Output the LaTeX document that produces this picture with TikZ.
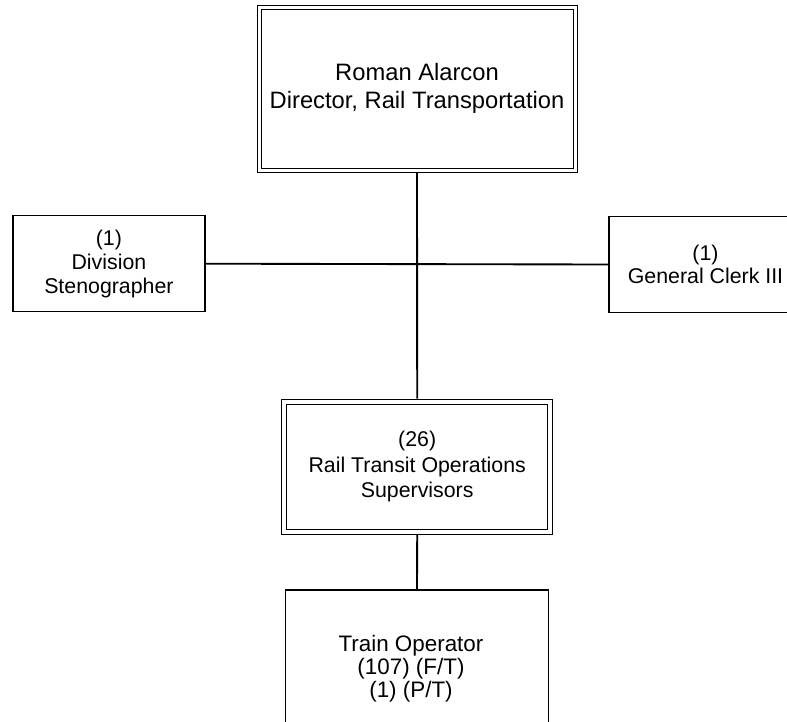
\documentclass[tikz,border=0pt]{standalone}
\usepackage{fontspec}
\setmainfont{Liberation Sans}
\begin{document}
\begin{tikzpicture}[x=0.75pt,y=-0.75pt,
  conn/.style={line width=1.4pt},
  singlebox/.style={draw, line width=1.1pt, rectangle, inner sep=0pt, outer sep=0pt, align=center},
  dblbox/.style={draw, rectangle, line width=0.75pt, double, double distance=#1, inner sep=0pt, align=center}
]
\useasboundingbox (0,0) rectangle (787,721);
\clip (0,0) rectangle (787,721);
\fill[white] (0,0) rectangle (787,721);

\node[dblbox=2.25pt, outer sep=1.875pt, minimum width=237pt, minimum height=122.25pt,
      font=\fontsize{17.8}{20.5}\selectfont] (dir) at (417,88.5)
  {Roman Alarcon\\Director, Rail Transportation};

\node[singlebox, minimum width=144.2pt, minimum height=72pt, font=\fontsize{16}{18}\selectfont]
  (steno) at (108.9,263.7) {(1)\\Division\\Stenographer};

\node[singlebox, minimum width=145pt, minimum height=72pt, font=\fontsize{16}{17}\selectfont]
  (clerk) at (705.5,264.5) {(1)\\General Clerk III};

\node[dblbox=3pt, outer sep=2.25pt, minimum width=199.5pt, minimum height=97.5pt,
      font=\fontsize{16}{18.8}\selectfont] (sup) at (417.2,466.5)
  {(26)\\Rail Transit Operations\\Supervisors};

\node[singlebox, minimum width=197pt, minimum height=127.5pt] (train) at (417,675) {};
\node[font=\fontsize{16.8}{17.2}\selectfont, align=center, inner sep=0pt] (traintxt) at (411,669)
  {Train Operator\\(107) (F/T)\\(1) (P/T)};

\draw[conn] (steno.east) -- (clerk.west);
\draw[conn] (dir.south) -- (sup.north);
\draw[conn] (sup.south) -- (train.north);
\end{tikzpicture}
\end{document}
